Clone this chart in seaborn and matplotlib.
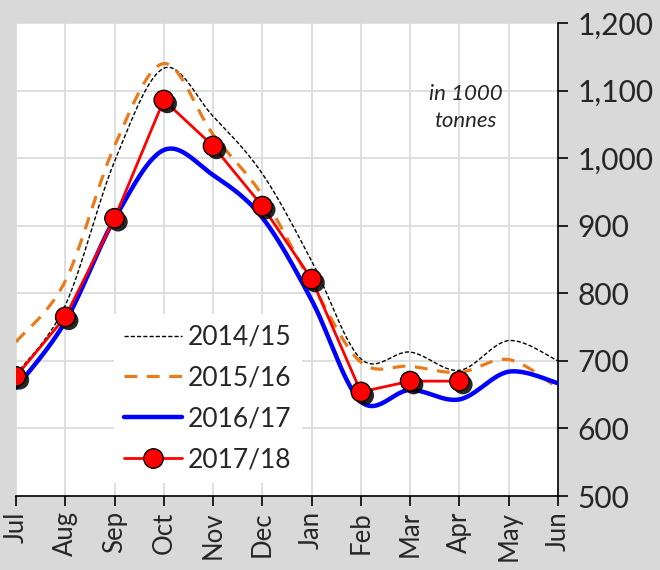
import numpy as np
import pandas as pd
import seaborn as sns
import matplotlib.pyplot as plt
import matplotlib.patheffects as pe
from matplotlib.lines import Line2D

# monthly values, in 1000 tonnes
months = ["Jul", "Aug", "Sep", "Oct", "Nov", "Dec", "Jan", "Feb", "Mar", "Apr", "May", "Jun"]
s1415 = [680, 782, 995, 1133, 1062, 977, 848, 703, 713, 686, 730, 700]
s1516 = [728, 818, 1018, 1140, 1035, 945, 815, 698, 692, 683, 702, 660]
s1617 = [660, 758, 910, 1012, 975, 912, 790, 640, 657, 643, 684, 667]
s1718 = [677, 765, 911, 1086, 1018, 929, 821, 654, 670, 670]

yticks = [500, 600, 700, 800, 900, 1000, 1100, 1200]


def smooth(vals, n=30):
    # excel-like smoothed line (bezier through the points)
    pts = np.column_stack([np.arange(len(vals)), vals]).astype(float)
    out = []
    for i in range(len(pts) - 1):
        p0 = pts[i - 1] if i > 0 else pts[i]
        p1, p2 = pts[i], pts[i + 1]
        p3 = pts[i + 2] if i + 2 < len(pts) else pts[i + 1]
        c1 = p1 + (p2 - p0) / 6
        c2 = p2 - (p3 - p1) / 6
        t = np.linspace(0, 1, n)[:, None]
        seg = (1 - t) ** 3 * p1 + 3 * (1 - t) ** 2 * t * c1 + 3 * (1 - t) * t ** 2 * c2 + t ** 3 * p2
        out.append(seg if i == 0 else seg[1:])
    out = np.vstack(out)
    return pd.DataFrame({"x": out[:, 0], "y": out[:, 1]})


sns.set_style("white")
plt.rcParams["font.family"] = ["Lato", "DejaVu Sans"]

fig = plt.figure(figsize=(6.6, 5.7), dpi=100)
fig.patch.set_facecolor("#d9d9d9")
ax = fig.add_axes([0.0242, 0.1298, 0.8212, 0.8298])
ax.set_facecolor("white")

d = smooth(s1415)
sns.lineplot(data=d, x="x", y="y", ax=ax, sort=False, estimator=None, color="black",
             linewidth=1.0, linestyle=(0, (3, 1.5)), zorder=3)
d = smooth(s1516)
sns.lineplot(data=d, x="x", y="y", ax=ax, sort=False, estimator=None, color="#e97b1b",
             linewidth=2.3, linestyle=(0, (4, 3)), zorder=3)
d = smooth(s1617)
sns.lineplot(data=d, x="x", y="y", ax=ax, sort=False, estimator=None, color="#0000ff",
             linewidth=3.2, zorder=4)
sns.lineplot(x=np.arange(len(s1718)), y=s1718, ax=ax, color="#ff0000", linewidth=2.0, zorder=5)
sns.lineplot(x=np.arange(len(s1718)), y=s1718, ax=ax, color="#ff0000", linestyle="none",
             marker="o", markersize=14, markerfacecolor="#ff0000", markeredgecolor="black",
             markeredgewidth=1.0, zorder=6)
ax.lines[-1].set_path_effects([pe.SimplePatchShadow(offset=(2.5, -2.5), shadow_rgbFace="black", alpha=0.85),
                               pe.Normal()])

ax.set_xlim(0, 11)
ax.set_ylim(500, 1200)
ax.set_xticks(range(12))
ax.set_xticklabels(months, rotation=90, fontsize=18.5)
ax.set_yticks(yticks)
ax.set_yticklabels([f"{v:,}" for v in yticks], fontsize=21.5)
ax.yaxis.tick_right()
ax.set_xlabel("")
ax.set_ylabel("")
ax.grid(True, color="#d9d9d9", linewidth=1.2)
ax.set_axisbelow(True)
for side in ["top", "left"]:
    ax.spines[side].set_visible(False)
for side in ["bottom", "right"]:
    ax.spines[side].set_color("black")
    ax.spines[side].set_linewidth(1.2)
ax.tick_params(axis="x", direction="out", length=7, width=1.2, color="black", bottom=True, pad=4)
ax.tick_params(axis="y", direction="out", length=7, width=1.2, color="black", right=True, left=False, pad=7)

ax.text(0.83, 0.822, "in 1000\ntonnes", transform=ax.transAxes, ha="center", va="center",
        fontsize=16, style="italic", linespacing=1.45)

handles = [
    Line2D([], [], color="black", linewidth=1.0, linestyle=(0, (3, 1.5))),
    Line2D([], [], color="#e97b1b", linewidth=2.3, linestyle=(0, (4, 3))),
    Line2D([], [], color="#0000ff", linewidth=3.2),
    Line2D([], [], color="#ff0000", linewidth=2.0, marker="o", markersize=14,
           markerfacecolor="#ff0000", markeredgecolor="black"),
]
leg = ax.legend(handles, ["2014/15", "2015/16", "2016/17", "2017/18"], loc="lower left",
                bbox_to_anchor=(0.156, 0.0), fontsize=19, frameon=True, fancybox=False,
                framealpha=1, edgecolor="white", handlelength=2.2, labelspacing=0.6,
                handletextpad=0.2, borderpad=0.4)
leg.get_frame().set_linewidth(0)
leg.set_zorder(10)

fig.savefig("out.png", dpi=100, facecolor=fig.get_facecolor())
